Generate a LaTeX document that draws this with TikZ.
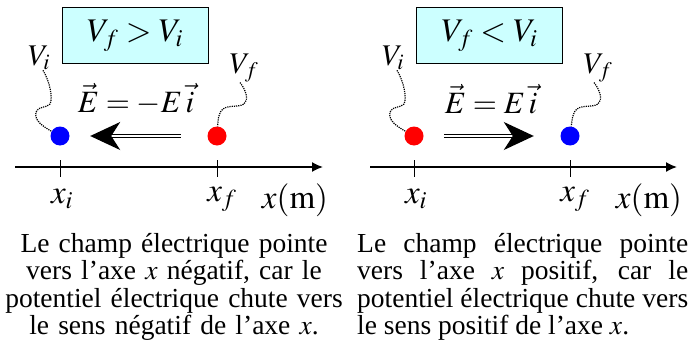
\documentclass[tikz,border=0pt]{standalone}
\usepackage{mathptmx}
\usepackage[no-math]{fontspec}
\setmainfont{Liberation Serif}
\usetikzlibrary{arrows.meta}
\definecolor{boxcyan}{RGB}{204,255,255}
\tikzset{
  dot/.style={circle,inner sep=0pt,minimum size=19pt},
  condbox/.style={draw,line width=1pt,fill=boxcyan,minimum width=146pt,minimum height=55pt,font=\fontsize{33}{36}\selectfont},
  vlab/.style={inner sep=0pt,font=\fontsize{30}{32}\selectfont},
  xlab/.style={inner sep=0pt,font=\fontsize{33}{35}\selectfont},
  elab/.style={inner sep=0pt,font=\fontsize{31}{33}\selectfont},
  squig/.style={densely dotted,line width=1.2pt},
  field/.style={double,double distance=2pt,line width=1.2pt,-{Stealth[length=30pt,width=28pt,inset=9pt]}},
  axis/.style={line width=1.6pt,-{Latex[length=11pt,width=10pt]}},
  captext/.style={inner sep=0pt,anchor=north,font=\fontsize{27.5}{27.5}\selectfont}
}
\begin{document}
\begin{tikzpicture}[x=1pt,y=-1pt]
  \useasboundingbox (0,0) rectangle (695,345);
  % Left: V_f > V_i
  \begin{scope}
    \node[condbox] (cl) at (135,35.5) {$V_f > V_i$};
    \node[dot,fill=blue] (pil) at (60,136) {};
    \node[dot,fill=red] (pfl) at (217,136) {};
    \node[vlab] (vil) at (39,58) {$V_i$};
    \node[vlab] (vfl) at (244,68) {$V_f$};
    \draw[squig] ([xshift=4pt]vil.south) .. controls (50,82) and (53,98) .. (50,104)
      .. controls (47,108) and (38,106) .. (36,112) .. controls (34,120) and (42,126) .. (pil);
    \draw[squig] ([xshift=-4pt]vfl.south) .. controls (246,90) and (249,100) .. (244,104)
      .. controls (238,108) and (226,104) .. (221,111) .. controls (218,116) and (218,121) .. (pfl);
    \node[elab] (el) at (136,99) {$\vec E=-E\,\vec i$};
    \draw[field,shorten <=26.5pt,shorten >=20.5pt] (pfl) -- (pil);
    \coordinate (ol) at (15,167);
    \coordinate (xl) at (323,167);
    \draw[axis] (ol) -- (xl);
    \draw[line width=1pt] (60,160) -- (60,177);
    \draw[line width=1pt] (217,160) -- (217,177);
    \node[xlab] (xil) at (62,199) {$x_i$};
    \node[xlab] (xfl) at (222,199) {$x_f$};
    \node[xlab] (xml) at (295,200) {$x(\mathrm{m})$};
    \node[captext,text width=345pt,align=center] (tl) at (174,233)
      {Le champ électrique pointe\\ vers l’axe $x$ négatif, car le\\
       potentiel électrique chute vers\\ le sens négatif de l’axe $x$.};
  \end{scope}
  % Right: V_f < V_i
  \begin{scope}[xshift=354pt]
    \node[condbox] (cr) at (135.5,35.5) {$V_f < V_i$};
    \node[dot,fill=red] (pir) at (60,136) {};
    \node[dot,fill=blue] (pfr) at (216,136) {};
    \node[vlab] (vir) at (39,58) {$V_i$};
    \node[vlab] (vfr) at (244,68) {$V_f$};
    \draw[squig] ([xshift=4pt]vir.south) .. controls (50,82) and (53,98) .. (50,104)
      .. controls (47,108) and (38,106) .. (36,112) .. controls (34,120) and (42,126) .. (pir);
    \draw[squig] ([xshift=-4pt]vfr.south) .. controls (246,90) and (249,100) .. (244,104)
      .. controls (238,108) and (226,104) .. (221,111) .. controls (218,116) and (218,121) .. (pfr);
    \node[elab] (er) at (137,99) {$\vec E=E\,\vec i$};
    \draw[field,shorten <=20.5pt,shorten >=26.5pt] (pir) -- (pfr);
    \coordinate (or) at (16,167);
    \coordinate (xr) at (323,167);
    \draw[axis] (or) -- (xr);
    \draw[line width=1pt] (60,160) -- (60,177);
    \draw[line width=1pt] (216,160) -- (216,177);
    \node[xlab] (xir) at (62,199) {$x_i$};
    \node[xlab] (xfr) at (221,199) {$x_f$};
    \node[xlab] (xmr) at (295,200) {$x(\mathrm{m})$};
    \node[captext,text width=331pt,align=justify,anchor=north west] (tr) at (3,233)
      {Le champ électrique pointe\linebreak vers l’axe $x$ positif, car le\linebreak
       potentiel électrique chute vers\linebreak le sens positif de l’axe $x$.};
  \end{scope}
\end{tikzpicture}
\end{document}
